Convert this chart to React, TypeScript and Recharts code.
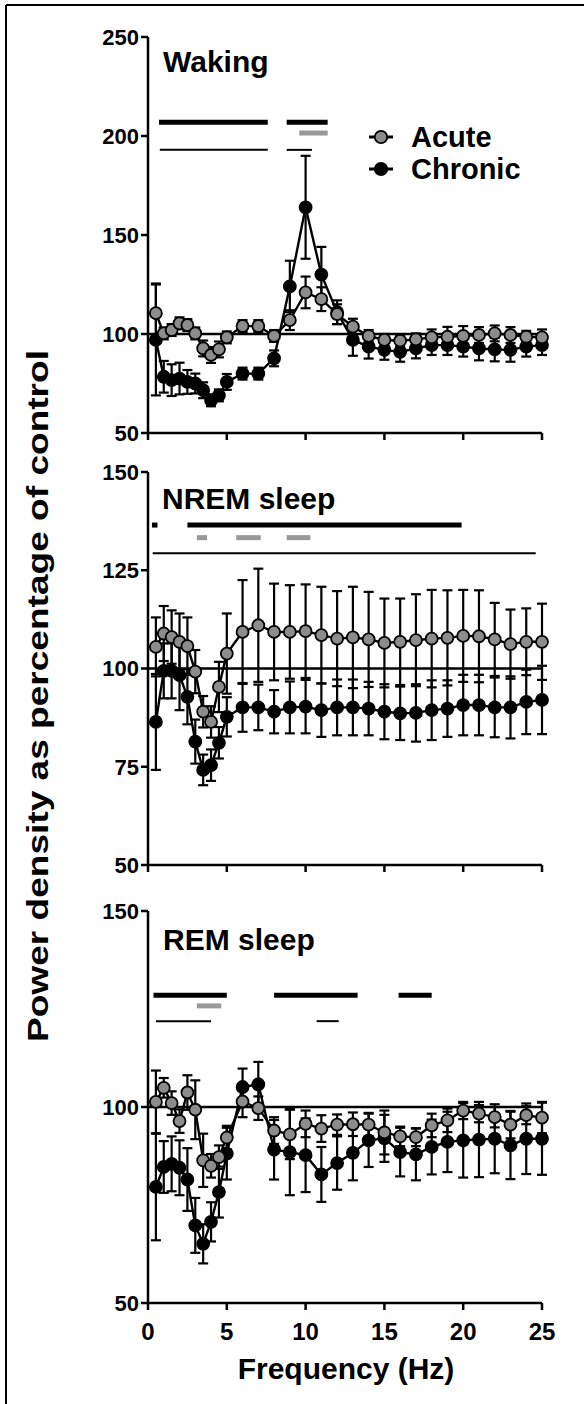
import React from 'react';
import { ComposedChart, Line, ErrorBar, XAxis, YAxis, ReferenceLine, Legend } from 'recharts';

// frequency bins (Hz)
const freqs = [0.5, 1, 1.5, 2, 2.5, 3, 3.5, 4, 4.5, 5, 6, 7, 8, 9, 10, 11, 12, 13, 14, 15, 16, 17, 18, 19, 20, 21, 22, 23, 24, 25];
const xTicks = [0, 5, 10, 15, 20, 25];

// Waking
const wakeAcute = [110.5, 100.3, 102, 105.4, 104.5, 100.3, 92.7, 89.4, 92.2, 98.3, 104, 104, 99, 107, 121, 117.6, 110, 103.7, 99, 97, 96.6, 97.3, 98.3, 98.6, 99, 99.5, 100.3, 99.5, 98.6, 98.3];
const wakeAcuteErr = [15, 3, 3, 3, 3, 3, 4, 4, 4, 3, 3, 3, 3, 5, 8, 6, 5, 4, 3, 3, 3, 3, 4, 5, 5, 4, 4, 4, 3, 4];
const wakeChronic = [97, 78.4, 76.7, 77.5, 75.8, 75, 71.6, 66.5, 69, 75.8, 80, 80, 87.7, 124, 164, 130, 111, 97, 93.6, 92, 91, 92.7, 94.4, 94.4, 93.6, 92.7, 92.2, 92, 93.6, 94.4];
const wakeChronicErr = [28, 8, 8, 8, 6, 5, 4, 3, 3, 4, 3, 3, 4, 13, 26, 14, 6, 8, 6, 5, 5, 5, 5, 5, 5, 6, 6, 6, 5, 5];

// NREM sleep
const nremAcute = [105.5, 108.9, 108, 106.8, 105.7, 99.2, 89, 86.4, 95.3, 103.8, 109.3, 111, 109.3, 109.3, 109.5, 108.5, 107.6, 107.9, 107.4, 106.5, 106.8, 107.2, 107.6, 107.8, 108.3, 108.2, 107.4, 106.2, 106.8, 106.8];
const nremAcuteErr = [7.5, 7, 6.8, 7.2, 7.3, 5.5, 4, 4, 6.4, 10.2, 13.2, 14.4, 12.3, 11.9, 11.9, 12.3, 12.1, 12.9, 12.1, 11.3, 11, 11.7, 12.4, 12.1, 11.7, 11.7, 9.3, 8.8, 8.5, 9.7];
const nremChronic = [86.4, 99.4, 99.4, 98.3, 92.8, 81.4, 74.2, 75.4, 81.1, 87.7, 90.1, 90.1, 89, 90.1, 90.3, 89.4, 90.1, 90.1, 89.8, 89, 88.6, 88.7, 89.4, 89.8, 90.7, 90.7, 90.1, 90.1, 91.5, 92];
const nremChronicErr = [12.2, 7, 7, 8.9, 7, 5.6, 3.9, 4, 4, 5, 6.2, 5.8, 5.5, 6.6, 6.8, 6.8, 7.1, 7.1, 6.8, 7, 6.8, 7.3, 7.6, 7.2, 7.7, 7.7, 7.6, 7.9, 8.2, 8.7];

// REM sleep
const remAcute = [101.3, 104.9, 101, 96.4, 103.7, 99.3, 86.4, 85, 87.2, 92.2, 101.4, 99.7, 94, 93, 95.7, 94.5, 95.5, 95.6, 95.5, 93.5, 92.5, 92.3, 95.3, 96.6, 99.1, 98.3, 97.4, 95.5, 97.9, 97.3];
const remAcuteErr = [8, 2.5, 3, 3, 4.4, 7.5, 6.8, 3, 3, 3, 4, 3, 3.4, 6.3, 3.4, 3.4, 2.6, 3, 3, 5.6, 2.5, 2.3, 3, 3, 2.2, 2.2, 2.6, 3.5, 2.3, 4];
const remChronic = [79.6, 84.7, 85.5, 84.5, 81.5, 69.8, 65.1, 70.7, 78.3, 88.1, 105.1, 105.8, 89.1, 88.5, 87.7, 82.8, 85.7, 88.3, 91.5, 92, 88.5, 87.9, 89.8, 91.1, 91.5, 91.7, 91.9, 90.2, 91.9, 91.9];
const remChronicErr = [13.6, 6.6, 7, 7, 8, 7, 5, 5, 6.5, 6.6, 4.7, 5.7, 7.6, 11, 9.4, 7, 6.8, 7, 6.8, 6, 6.2, 6.6, 7, 7.7, 9.5, 9.6, 8.8, 8.6, 9, 9.2];

// significance bars: [from Hz, to Hz, level]
const wakeSigBoth = [[0.7, 7.6, 207], [8.8, 11.4, 207]];
const wakeSigAcute = [[9.6, 11.4, 201.5]];
const wakeSigChronic = [[0.75, 7.6, 193], [8.8, 10.4, 193]];
const nremSigBoth = [[0.25, 0.6, 136.5], [2.5, 19.9, 136.5]];
const nremSigAcute = [[3.1, 3.75, 133.3], [5.6, 7.15, 133.3], [8.8, 10.3, 133.3]];
const nremSigChronic = [[0.3, 24.6, 129.3]];
const remSigBoth = [[0.35, 5.0, 128.5], [8.0, 13.3, 128.5], [15.9, 18.0, 128.5]];
const remSigAcute = [[3.1, 4.65, 125.8]];
const remSigChronic = [[0.5, 4.0, 121.9], [10.7, 12.1, 121.9]];

const FONT = "'Liberation Sans', Arial, Helvetica, sans-serif";
const GRAY = '#8c8c8c';
const AXIS_W = 2.5;

function toRows(acute: number[], acuteErr: number[], chronic: number[], chronicErr: number[]) {
  return freqs.map((f, i) => ({
    f,
    acute: acute[i],
    acuteErr: acuteErr[i],
    chronic: chronic[i],
    chronicErr: chronicErr[i],
  }));
}

function LegendBox() {
  const items = [
    { name: 'Acute', fill: GRAY },
    { name: 'Chronic', fill: '#000' },
  ];
  return (
    <div>
      {items.map((it) => (
        <div key={it.name} style={{ display: 'flex', alignItems: 'center', height: 32 }}>
          <svg width={28} height={20}>
            <line x1={2} y1={10} x2={26} y2={10} stroke="#000" strokeWidth={3} />
            <circle cx={14} cy={10} r={6.2} fill={it.fill} stroke="#000" strokeWidth={1.8} />
          </svg>
          <span style={{ marginLeft: 16, fontFamily: FONT, fontWeight: 'bold', fontSize: 29, lineHeight: '32px' }}>
            {it.name}
          </span>
        </div>
      ))}
    </div>
  );
}

type PanelProps = {
  top: number;
  height: number;
  marginTop: number;
  marginBottom: number;
  xAxisHeight: number;
  showXLabels: boolean;
  yDomain: [number, number];
  yTicks: number[];
  rows: ReturnType<typeof toRows>;
  sigBoth: number[][];
  sigAcute: number[][];
  sigChronic: number[][];
  legend?: boolean;
};

function Panel(p: PanelProps) {
  const dotStyle = (fill: string) => ({ r: 6, fill, stroke: '#000', strokeWidth: 1.8 });
  return (
    <div style={{ position: 'absolute', left: 0, top: p.top }}>
      <ComposedChart
        width={584}
        height={p.height}
        data={p.rows}
        margin={{ top: p.marginTop, right: 42, bottom: p.marginBottom, left: 88 }}
      >
        <XAxis
          dataKey="f"
          type="number"
          domain={[0, 25]}
          ticks={xTicks}
          height={p.xAxisHeight}
          axisLine={{ stroke: '#000', strokeWidth: AXIS_W }}
          tickLine={{ stroke: '#000', strokeWidth: AXIS_W }}
          tickSize={7}
          tickMargin={13}
          tick={{ fill: '#000', fontSize: 24, fontFamily: FONT, fontWeight: 'bold' }}
          tickFormatter={p.showXLabels ? undefined : () => ''}
        />
        <YAxis
          type="number"
          domain={p.yDomain}
          ticks={p.yTicks}
          width={60}
          axisLine={{ stroke: '#000', strokeWidth: AXIS_W }}
          tickLine={{ stroke: '#000', strokeWidth: AXIS_W }}
          tickSize={7}
          tickMargin={2}
          tick={{ fill: '#000', fontSize: 22, fontFamily: FONT, fontWeight: 'bold' }}
        />
        <ReferenceLine y={100} stroke="#000" strokeWidth={2.5} />
        {p.sigBoth.map(([a, b, y], i) => (
          <ReferenceLine key={'b' + i} segment={[{ x: a, y }, { x: b, y }]} stroke="#000" strokeWidth={5} ifOverflow="visible" />
        ))}
        {p.sigAcute.map(([a, b, y], i) => (
          <ReferenceLine key={'a' + i} segment={[{ x: a, y }, { x: b, y }]} stroke="#999" strokeWidth={5} ifOverflow="visible" />
        ))}
        {p.sigChronic.map(([a, b, y], i) => (
          <ReferenceLine key={'c' + i} segment={[{ x: a, y }, { x: b, y }]} stroke="#000" strokeWidth={2} ifOverflow="visible" />
        ))}
        <Line
          dataKey="chronic"
          stroke="#000"
          strokeWidth={2.4}
          dot={dotStyle('#000')}
          activeDot={false}
          isAnimationActive={false}
        >
          <ErrorBar dataKey="chronicErr" direction="y" width={5} stroke="#000" strokeWidth={2.2} />
        </Line>
        <Line
          dataKey="acute"
          stroke="#000"
          strokeWidth={2.4}
          dot={dotStyle(GRAY)}
          activeDot={false}
          isAnimationActive={false}
        >
          <ErrorBar dataKey="acuteErr" direction="y" width={5} stroke="#000" strokeWidth={2.2} />
        </Line>
        {p.legend && (
          <Legend
            layout="vertical"
            align="center"
            verticalAlign="middle"
            content={() => <LegendBox />}
            wrapperStyle={{ position: 'absolute', top: 121, left: 367, width: 200 }}
          />
        )}
      </ComposedChart>
    </div>
  );
}

export default function App() {
  const titleStyle: React.CSSProperties = {
    position: 'absolute',
    fontFamily: FONT,
    fontWeight: 'bold',
    fontSize: 30,
    lineHeight: '30px',
    margin: 0,
  };
  return (
    <div style={{ position: 'absolute', left: 0, top: 0, width: 584, height: 1404, background: '#fff', overflow: 'hidden' }}>
      <Panel
        top={0}
        height={450}
        marginTop={37}
        marginBottom={0}
        xAxisHeight={17}
        showXLabels={false}
        yDomain={[50, 250]}
        yTicks={[50, 100, 150, 200, 250]}
        rows={toRows(wakeAcute, wakeAcuteErr, wakeChronic, wakeChronicErr)}
        sigBoth={wakeSigBoth}
        sigAcute={wakeSigAcute}
        sigChronic={wakeSigChronic}
        legend
      />
      <Panel
        top={450}
        height={440}
        marginTop={22}
        marginBottom={0}
        xAxisHeight={25}
        showXLabels={false}
        yDomain={[50, 150]}
        yTicks={[50, 75, 100, 125, 150]}
        rows={toRows(nremAcute, nremAcuteErr, nremChronic, nremChronicErr)}
        sigBoth={nremSigBoth}
        sigAcute={nremSigAcute}
        sigChronic={nremSigChronic}
      />
      <Panel
        top={890}
        height={514}
        marginTop={21}
        marginBottom={21}
        xAxisHeight={80}
        showXLabels
        yDomain={[50, 150]}
        yTicks={[50, 100, 150]}
        rows={toRows(remAcute, remAcuteErr, remChronic, remChronicErr)}
        sigBoth={remSigBoth}
        sigAcute={remSigAcute}
        sigChronic={remSigChronic}
      />
      <div style={{ ...titleStyle, left: 163, top: 47 }}>Waking</div>
      <div style={{ ...titleStyle, left: 162, top: 484 }}>NREM sleep</div>
      <div style={{ ...titleStyle, left: 163, top: 925 }}>REM sleep</div>
      <svg width={584} height={1404} style={{ position: 'absolute', left: 0, top: 0, pointerEvents: 'none' }}>
        <line x1={6} y1={5} x2={584} y2={5} stroke="#000" strokeWidth={2} />
        <line x1={6} y1={5} x2={6} y2={1404} stroke="#000" strokeWidth={2} />
        <text
          x={38}
          y={696}
          transform="rotate(-90 38 696)"
          textAnchor="middle"
          dominantBaseline="central"
          fontFamily={FONT}
          fontWeight="bold"
          fontSize={29}
          textLength={692}
          lengthAdjust="spacingAndGlyphs"
        >
          Power density as percentage of control
        </text>
        <text x={346} y={1379} textAnchor="middle" fontFamily={FONT} fontWeight="bold" fontSize={30}>
          Frequency (Hz)
        </text>
      </svg>
    </div>
  );
}
